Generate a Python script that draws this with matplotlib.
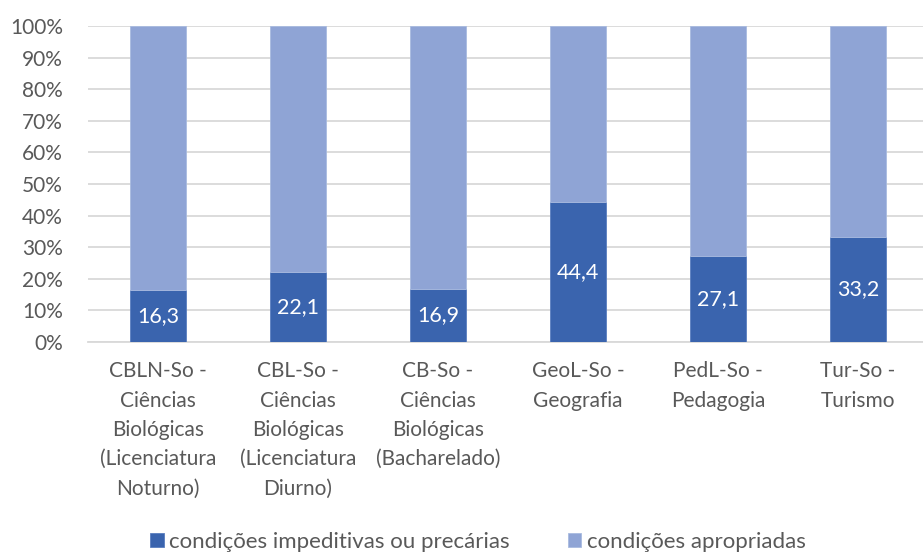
import matplotlib
matplotlib.use('Agg')
import matplotlib.pyplot as plt
import numpy as np

plt.rcParams['font.family'] = ['Lato', 'DejaVu Sans']

categories = [
    "CBLN-So -\nCiências\nBiológicas\n(Licenciatura\nNoturno)",
    "CBL-So -\nCiências\nBiológicas\n(Licenciatura\nDiurno)",
    "CB-So -\nCiências\nBiológicas\n(Bacharelado)",
    "GeoL-So -\nGeografia",
    "PedL-So -\nPedagogia",
    "Tur-So -\nTurismo",
]
impeditivas = [16.3, 22.1, 16.9, 44.4, 27.1, 33.2]
apropriadas = [100 - v for v in impeditivas]
labels = ["condições impeditivas ou precárias", "condições apropriadas"]
colors = ["#3A64AE", "#8FA4D5"]
text_color = "#595959"

W, H = 923, 552
fig = plt.figure(figsize=(W / 100, H / 100), dpi=100)
# plot area in pixels: x 88..928, y 26..342
ax = fig.add_axes([88 / W, 1 - 342 / H, 840 / W, 316 / H])

x = np.arange(len(categories))
b1 = ax.bar(x, impeditivas, width=0.4, color=colors[0], edgecolor="#5A7EC0",
            linewidth=0.6, label=labels[0], zorder=3)
b2 = ax.bar(x, apropriadas, width=0.4, bottom=impeditivas, color=colors[1],
            edgecolor="#A9BBE0", linewidth=0.6, label=labels[1], zorder=3)

for xi, v in zip(x, impeditivas):
    ax.text(xi, v / 2, f"{v:.1f}".replace(".", ","), ha="center", va="center",
            color="white", fontsize=15.5, zorder=4)

ax.set_xlim(-0.5, len(categories) - 0.5)
ax.set_ylim(0, 100)
ax.set_yticks(np.arange(0, 101, 10))
ax.set_yticklabels([f"{t}%" for t in range(0, 101, 10)])
ax.yaxis.grid(True, color="#D9D9D9", linewidth=1.3, zorder=0)
ax.set_axisbelow(True)
for s in ["top", "right", "left"]:
    ax.spines[s].set_visible(False)
ax.spines["bottom"].set_color("#D9D9D9")
ax.spines["bottom"].set_linewidth(1.3)
ax.tick_params(axis="both", length=0, colors=text_color, labelsize=15)
ax.tick_params(axis="y", pad=18)
ax.tick_params(axis="x", pad=14)
ax.set_xticks(x)
ax.set_xticklabels(categories, linespacing=1.58)

fig.legend(handles=[b1, b2], labels=labels, loc="center", ncol=2,
           bbox_to_anchor=(478 / W, 1 - 542 / H), frameon=False,
           fontsize=16, handlelength=0.6, handleheight=0.6,
           handletextpad=0.25, columnspacing=2.6, labelcolor=text_color)

fig.savefig("out.png", dpi=100)
